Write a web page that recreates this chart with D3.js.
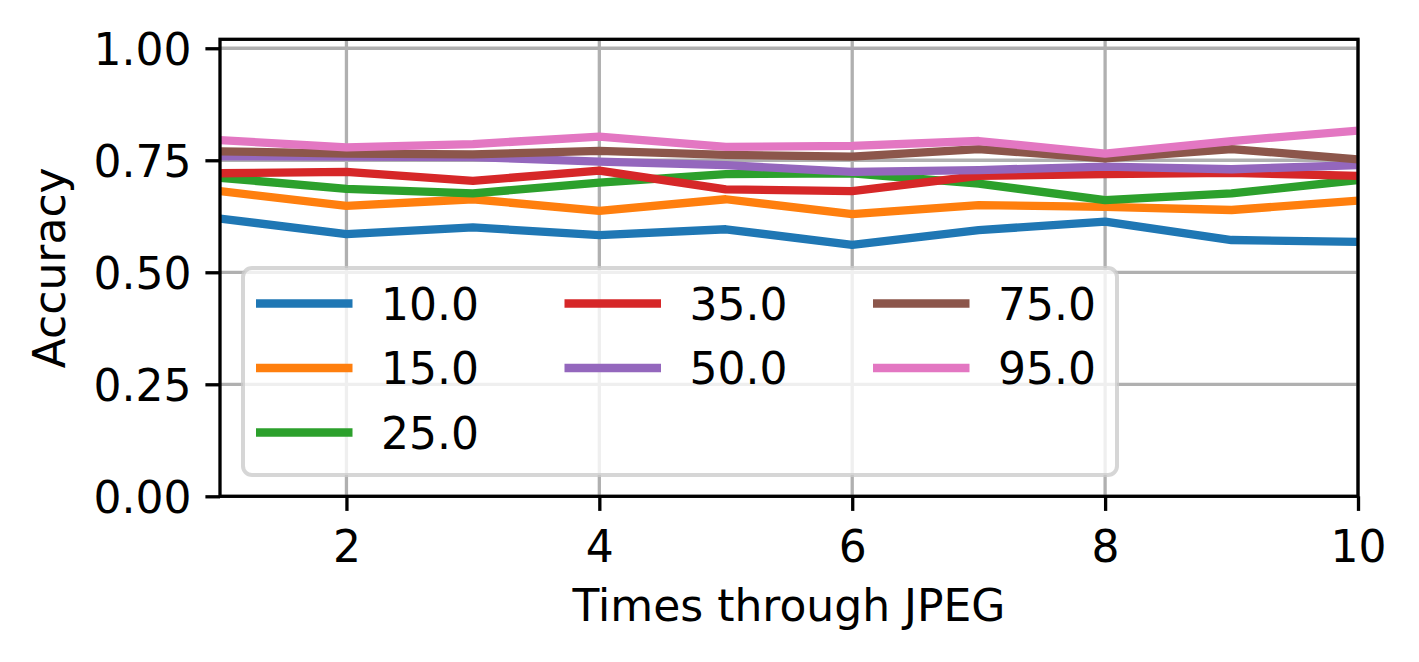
<!DOCTYPE html>
<html>
<head>
<meta charset="utf-8">
<script src="https://cdn.jsdelivr.net/npm/d3@7"></script>
<style>
  html, body { margin: 0; padding: 0; background: #fff; }
  svg { display: block; font-family: "DejaVu Sans", sans-serif; }
</style>
</head>
<body>
<svg id="chart" width="1419" height="662"></svg>
<script>
// ---- Data ----
const passes = [1, 2, 3, 4, 5, 6, 7, 8, 9, 10];
const qualities = ["10.0", "15.0", "25.0", "35.0", "50.0", "75.0", "95.0"];
const acc10 = [0.620, 0.585, 0.600, 0.583, 0.596, 0.561, 0.594, 0.613, 0.572, 0.568];
const acc15 = [0.681, 0.648, 0.663, 0.637, 0.663, 0.630, 0.650, 0.646, 0.639, 0.660];
const acc25 = [0.711, 0.686, 0.676, 0.700, 0.719, 0.721, 0.698, 0.661, 0.676, 0.706];
const acc35 = [0.721, 0.724, 0.704, 0.727, 0.685, 0.681, 0.715, 0.719, 0.722, 0.715];
const acc50 = [0.759, 0.758, 0.757, 0.747, 0.739, 0.724, 0.728, 0.736, 0.730, 0.739];
const acc75 = [0.770, 0.765, 0.763, 0.771, 0.762, 0.758, 0.775, 0.754, 0.775, 0.752];
const acc95 = [0.795, 0.779, 0.786, 0.803, 0.780, 0.782, 0.793, 0.765, 0.793, 0.816];
const xTicks = [2, 4, 6, 8, 10];
const yTicks = [0, 0.25, 0.5, 0.75, 1.0];
const colors = ["#1f77b4", "#ff7f0e", "#2ca02c", "#d62728", "#9467bd", "#8c564b", "#e377c2"];
const seriesValues = [acc10, acc15, acc25, acc35, acc50, acc75, acc95];

// ---- Layout ----
const L = 220, R = 1358, T = 39.3, B = 496.3;
const FS = 44;
const svg = d3.select("#chart");

const x = d3.scaleLinear().domain([1, 10]).range([L, R]);
const y = d3.scaleLinear().domain([0, 1.02]).range([B, T]);

// clip
svg.append("defs").append("clipPath").attr("id", "plotclip")
  .append("rect").attr("x", L).attr("y", T).attr("width", R - L).attr("height", B - T);

// grid
const grid = svg.append("g");
grid.selectAll(".gx").data(xTicks).enter().append("line")
  .attr("x1", d => x(d)).attr("x2", d => x(d)).attr("y1", T).attr("y2", B)
  .attr("stroke", "#b0b0b0").attr("stroke-width", 3.3);
grid.selectAll(".gy").data(yTicks).enter().append("line")
  .attr("x1", L).attr("x2", R).attr("y1", d => y(d)).attr("y2", d => y(d))
  .attr("stroke", "#b0b0b0").attr("stroke-width", 3.3);

// lines
const line = d3.line().x((d, i) => x(passes[i])).y(d => y(d));
const lines = svg.append("g").attr("clip-path", "url(#plotclip)");
seriesValues.forEach((vals, k) => {
  lines.append("path").datum(vals)
    .attr("d", line)
    .attr("fill", "none")
    .attr("stroke", colors[k])
    .attr("stroke-width", 8.3)
    .attr("stroke-linejoin", "round")
    .attr("stroke-linecap", "square");
});

// axes
const xAxis = d3.axisBottom(x).tickValues(xTicks).tickSize(14.6).tickPadding(0).tickFormat(d3.format("d"));
const yAxis = d3.axisLeft(y).tickValues(yTicks).tickSize(14.6).tickPadding(0).tickFormat(d3.format(".2f"));

const gx = svg.append("g").attr("transform", `translate(0,${B})`).call(xAxis);
gx.select(".domain").remove();
gx.selectAll(".tick line").attr("stroke", "#000").attr("stroke-width", 3.3);
gx.selectAll(".tick text").attr("font-size", FS).attr("fill", "#000")
  .attr("font-family", "DejaVu Sans").attr("dy", null).attr("y", 65.5);

const gy = svg.append("g").attr("transform", `translate(${L},0)`).call(yAxis);
gy.select(".domain").remove();
gy.selectAll(".tick line").attr("stroke", "#000").attr("stroke-width", 3.3);
gy.selectAll(".tick text").attr("font-size", FS).attr("fill", "#000")
  .attr("font-family", "DejaVu Sans").attr("dy", null).attr("x", -28.5).attr("y", 16);

// spines
svg.append("rect").attr("x", L).attr("y", T).attr("width", R - L).attr("height", B - T)
  .attr("fill", "none").attr("stroke", "#000").attr("stroke-width", 3.3);

// axis labels
svg.append("text").attr("x", (L + R) / 2).attr("y", 621)
  .attr("text-anchor", "middle").attr("font-size", FS).attr("fill", "#000")
  .text("Times through JPEG");
svg.append("text").attr("transform", `translate(65,${(T + B) / 2}) rotate(-90)`)
  .attr("text-anchor", "middle").attr("font-size", FS).attr("fill", "#000")
  .text("Accuracy");

// legend (3 columns, filled column-wise as 3 / 2 / 2)
const lg = svg.append("g");
lg.append("rect").attr("x", 243).attr("y", 268).attr("width", 874).attr("height", 207)
  .attr("rx", 9).attr("ry", 9)
  .attr("fill", "#fff").attr("fill-opacity", 0.8)
  .attr("stroke", "#cccccc").attr("stroke-opacity", 0.8).attr("stroke-width", 4);
const colX = [256, 564.5, 873];
const rowY = [303.5, 368, 432.5];
const legendCols = [[0, 1, 2], [3, 4], [5, 6]];
legendCols.forEach((items, c) => {
  items.forEach((i, r) => {
    lg.append("line").attr("x1", colX[c]).attr("x2", colX[c] + 96.5)
      .attr("y1", rowY[r]).attr("y2", rowY[r])
      .attr("stroke", colors[i]).attr("stroke-width", 8.3);
    lg.append("text").attr("x", colX[c] + 125).attr("y", rowY[r] + 16)
      .attr("font-size", FS).attr("fill", "#000").text(qualities[i]);
  });
});
</script>
</body>
</html>
